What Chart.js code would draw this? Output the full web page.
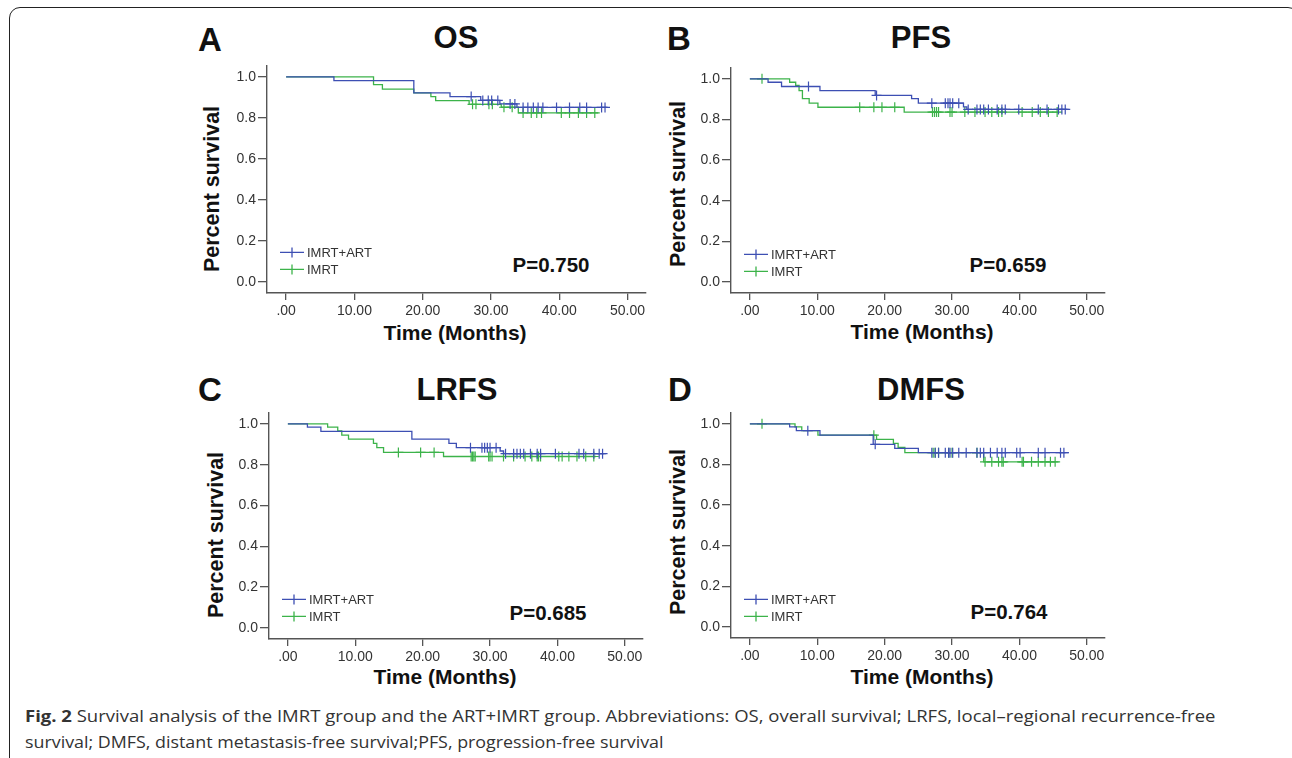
<!DOCTYPE html>
<html>
<head>
<meta charset="utf-8">
<script src="https://cdn.jsdelivr.net/npm/chart.js@4.4.1/dist/chart.umd.min.js"></script>
<style>
  body { margin: 0; background: #fff; width: 1292px; height: 758px; overflow: hidden; position: relative;
         font-family: "Liberation Sans", Arial, sans-serif; }
  .frame { position: absolute; left: 9px; top: 7px; width: 1290px; height: 800px;
           border: 1.6px solid #222; border-radius: 11px; box-sizing: border-box; }
  canvas { position: absolute; }
  .t { position: absolute; transform: translate(-50%, -50%); white-space: nowrap; color: #111; font-weight: bold; }
  .letter { font-size: 33px; }
  .title { font-size: 31px; }
  .xt { font-size: 21px; }
  .yt { font-size: 21.5px; transform: translate(-50%, -50%) rotate(-90deg); }
  .pv { font-size: 20.5px; }
  .cap { position: absolute; left: 25px; white-space: nowrap; font-family: "Open Sans", sans-serif;
         font-size: 16px; color: #333; transform-origin: 0 50%; line-height: 20px; }
</style>
</head>
<body>
<div class="frame"></div>

<div class="t letter" style="left:210px;top:40px">A</div>
<div class="t letter" style="left:679px;top:39px">B</div>
<div class="t letter" style="left:210px;top:390px">C</div>
<div class="t letter" style="left:680px;top:390px">D</div>

<div class="t title" style="left:456px;top:38px">OS</div>
<div class="t title" style="left:921px;top:38px">PFS</div>
<div class="t title" style="left:457px;top:390px">LRFS</div>
<div class="t title" style="left:921px;top:390px">DMFS</div>

<div class="t yt" style="left:212px;top:189px">Percent survival</div>
<div class="t yt" style="left:678px;top:184px">Percent survival</div>
<div class="t yt" style="left:216px;top:535px">Percent survival</div>
<div class="t yt" style="left:678px;top:532px">Percent survival</div>

<div class="t xt" style="left:455px;top:333px">Time (Months)</div>
<div class="t xt" style="left:922px;top:332px">Time (Months)</div>
<div class="t xt" style="left:445px;top:677px">Time (Months)</div>
<div class="t xt" style="left:922px;top:677px">Time (Months)</div>

<div class="t pv" style="left:551px;top:265px">P=0.750</div>
<div class="t pv" style="left:1008px;top:265px">P=0.659</div>
<div class="t pv" style="left:548px;top:613px">P=0.685</div>
<div class="t pv" style="left:1009px;top:612px">P=0.764</div>

<div class="cap" id="cap1" style="top:706px"><b>Fig. 2</b> Survival analysis of the IMRT group and the ART+IMRT group. Abbreviations: OS, overall survival; LRFS, local–regional recurrence-free</div>
<div class="cap" id="cap2" style="top:732px">survival; DMFS, distant metastasis-free survival;PFS, progression-free survival</div>

<script>
const groups = ['IMRT+ART', 'IMRT'];
const colors = ['#3d4fb3', '#3cb34a'];
const xTicks = [0, 10, 20, 30, 40, 50];
const xTickLabels = ['.00', '10.00', '20.00', '30.00', '40.00', '50.00'];
const yTicks = [0, 0.2, 0.4, 0.6, 0.8, 1.0];
const yTickLabels = ['0.0', '0.2', '0.4', '0.6', '0.8', '1.0'];

// OS
const osArtTimes = [7.0, 18.7, 24.0, 28.5, 31.3, 33.8];
const osArtSurv = [0.982, 0.922, 0.904, 0.885, 0.868, 0.851];
const osArtEnd = 47.1;
const osArtCens = [27.1, 28.8, 29.6, 30.1, 31.0, 32.8, 33.5, 34.7, 35.4, 36.2, 36.9, 37.6, 39.6, 41.5, 43.0, 44.0, 46.2, 46.7];
const osImrtTimes = [12.8, 14.1, 18.7, 21.2, 21.9, 26.8, 31.5, 34.0];
const osImrtSurv = [0.962, 0.940, 0.922, 0.904, 0.884, 0.866, 0.852, 0.824];
const osImrtEnd = 45.7;
const osImrtCens = [27.3, 27.8, 29.7, 30.2, 31.9, 33.1, 34.7, 35.9, 36.7, 37.4, 40.3, 41.5, 42.8, 44.0, 45.2];

// PFS
const pfsArtTimes = [2.7, 4.7, 10.4, 18.6, 24.0, 25.0, 31.7, 32.2];
const pfsArtSurv = [0.983, 0.962, 0.942, 0.918, 0.902, 0.880, 0.862, 0.849];
const pfsArtEnd = 47.3;
const pfsArtCens = [8.7, 18.8, 27.0, 29.0, 29.4, 29.7, 30.1, 31.0, 32.4, 33.7, 34.2, 34.7, 35.4, 36.7, 37.4, 37.9, 39.9, 42.8, 44.1, 45.8, 46.3, 46.8];
const pfsImrtTimes = [5.9, 6.8, 7.3, 7.8, 8.8, 10.1, 22.9];
const pfsImrtSurv = [0.983, 0.967, 0.942, 0.902, 0.880, 0.860, 0.836];
const pfsImrtEnd = 45.8;
const pfsImrtCens = [1.8, 16.3, 18.4, 19.6, 21.5, 27.1, 27.4, 27.7, 28.0, 29.7, 30.0, 31.9, 33.4, 34.9, 35.9, 36.9, 37.4, 40.4, 41.9, 43.1, 44.3, 45.6];

// LRFS
const lrfsArtTimes = [2.9, 4.9, 18.4, 23.9, 25.0, 31.5, 32.0];
const lrfsArtSurv = [0.984, 0.963, 0.925, 0.904, 0.883, 0.867, 0.854];
const lrfsArtEnd = 47.2;
const lrfsArtCens = [27.1, 28.8, 29.2, 29.6, 30.0, 30.9, 32.3, 33.5, 34.0, 34.5, 35.0, 36.0, 37.0, 37.5, 39.7, 43.2, 43.9, 45.4, 46.2, 46.7];
const lrfsImrtTimes = [5.9, 7.4, 8.0, 9.0, 12.7, 13.2, 14.2, 23.1];
const lrfsImrtSurv = [0.984, 0.965, 0.945, 0.925, 0.904, 0.883, 0.860, 0.840];
const lrfsImrtEnd = 45.7;
const lrfsImrtCens = [16.4, 19.7, 21.7, 27.2, 27.4, 27.6, 27.8, 29.8, 30.0, 30.3, 32.0, 33.5, 35.2, 36.2, 37.0, 37.2, 37.5, 40.2, 40.7, 41.7, 42.9, 44.2, 45.4];

// DMFS
const dmfsArtTimes = [5.9, 6.9, 10.4, 18.3, 21.5, 25.0];
const dmfsArtSurv = [0.985, 0.966, 0.944, 0.899, 0.879, 0.858];
const dmfsArtEnd = 47.3;
const dmfsArtCens = [8.6, 18.6, 27.0, 27.5, 28.0, 29.0, 29.5, 29.7, 30.1, 31.0, 32.1, 33.7, 34.2, 34.7, 35.7, 36.7, 37.4, 37.9, 39.6, 40.1, 42.8, 43.8, 46.1, 46.6];
const dmfsImrtTimes = [6.7, 7.7, 10.1, 18.8, 21.3, 22.0, 23.0, 34.7];
const dmfsImrtSurv = [0.985, 0.966, 0.944, 0.923, 0.904, 0.884, 0.858, 0.813];
const dmfsImrtEnd = 45.8;
const dmfsImrtCens = [1.8, 18.4, 27.2, 27.5, 28.0, 29.5, 30.0, 33.7, 34.9, 35.9, 36.9, 37.4, 37.6, 40.4, 40.6, 41.8, 42.8, 43.8, 44.6, 45.3];

// plot frame of each panel in page pixels: left, top, right, bottom
const panels = [
  { area: [267, 65, 646, 293],
    sets: [[osArtTimes, osArtSurv, osArtEnd, osArtCens], [osImrtTimes, osImrtSurv, osImrtEnd, osImrtCens]] },
  { area: [731, 67, 1105, 293],
    sets: [[pfsArtTimes, pfsArtSurv, pfsArtEnd, pfsArtCens], [pfsImrtTimes, pfsImrtSurv, pfsImrtEnd, pfsImrtCens]] },
  { area: [269, 412, 643, 639],
    sets: [[lrfsArtTimes, lrfsArtSurv, lrfsArtEnd, lrfsArtCens], [lrfsImrtTimes, lrfsImrtSurv, lrfsImrtEnd, lrfsImrtCens]] },
  { area: [731, 412, 1105, 638],
    sets: [[dmfsArtTimes, dmfsArtSurv, dmfsArtEnd, dmfsArtCens], [dmfsImrtTimes, dmfsImrtSurv, dmfsImrtEnd, dmfsImrtCens]] }
];

// canvas margin round the plot frame; the axes take YW / XH of it
const PADL = 60, PADR = 10, PADT = 10, PADB = 32;
const YW = 44, XH = 30;

function survAt(times, surv, t) {
  let s = 1;
  for (let i = 0; i < times.length; i++) {
    if (times[i] <= t) s = surv[i];
  }
  return s;
}

const legendPlugin = {
  id: 'kmLegend',
  afterDraw(chart) {
    const ctx = chart.ctx;
    const a = chart.chartArea;
    ctx.save();
    groups.forEach((g, i) => {
      const y = a.top + 187 + i * 17;
      ctx.strokeStyle = colors[i];
      ctx.lineWidth = 1.3;
      ctx.beginPath();
      ctx.moveTo(a.left + 13, y);
      ctx.lineTo(a.left + 37, y);
      ctx.moveTo(a.left + 25, y - 5);
      ctx.lineTo(a.left + 25, y + 5);
      ctx.stroke();
      ctx.fillStyle = '#333';
      ctx.font = '13px "Liberation Sans", Arial, sans-serif';
      ctx.textBaseline = 'middle';
      ctx.fillText(g, a.left + 40, y + 1);
    });
    ctx.restore();
  }
};

const tickFont = { family: '"Liberation Sans", Arial, sans-serif', size: 14 };

panels.forEach(p => {
  const [l, t, r, b] = p.area;
  const cv = document.createElement('canvas');
  cv.width = r - l + PADL + PADR;
  cv.height = b - t + PADT + PADB;
  cv.style.left = (l - PADL) + 'px';
  cv.style.top = (t - PADT) + 'px';
  document.body.appendChild(cv);

  const datasets = [];
  p.sets.forEach((s, i) => {
    const [times, surv, end, cens] = s;
    const pts = [{ x: 0, y: 1 }];
    times.forEach((tt, k) => pts.push({ x: tt, y: surv[k] }));
    pts.push({ x: end, y: surv[surv.length - 1] });
    datasets.push({
      label: groups[i],
      data: pts,
      showLine: true,
      stepped: true,
      borderColor: colors[i],
      borderWidth: 1.3,
      pointRadius: 0
    });
    datasets.push({
      label: groups[i] + ' censored',
      data: cens.map(c => ({ x: c, y: survAt(times, surv, c) })),
      showLine: false,
      pointStyle: 'cross',
      pointRadius: 5,
      borderColor: colors[i],
      backgroundColor: colors[i],
      pointBorderWidth: 1.2
    });
  });

  new Chart(cv, {
    type: 'scatter',
    data: { datasets: datasets },
    plugins: [legendPlugin],
    options: {
      responsive: false,
      animation: false,
      events: [],
      layout: { padding: { left: PADL - YW, right: PADR, top: PADT, bottom: PADB - XH } },
      plugins: { legend: { display: false }, tooltip: { enabled: false } },
      scales: {
        x: {
          type: 'linear', min: -2.8, max: 52.7,
          afterBuildTicks: s => { s.ticks = xTicks.map(v => ({ value: v })); },
          afterFit: s => { s.height = XH; },
          ticks: { callback: (v, i) => xTickLabels[i], font: tickFont, color: '#333', padding: 3, maxRotation: 0, autoSkip: false },
          grid: { drawOnChartArea: false, tickLength: 7, color: '#555', lineWidth: 1.3 },
          border: { color: '#555', width: 1.4 }
        },
        y: {
          type: 'linear', min: -0.054, max: 1.056,
          afterBuildTicks: s => { s.ticks = yTicks.map(v => ({ value: v })); },
          afterFit: s => { s.width = YW; },
          ticks: { callback: (v, i) => yTickLabels[i], font: tickFont, color: '#333', padding: 2, autoSkip: false },
          grid: { drawOnChartArea: false, tickLength: 9, color: '#555', lineWidth: 1.3 },
          border: { color: '#555', width: 1.4 }
        }
      }
    }
  });
});

// fit caption lines to the measured widths of the figure
[['cap1', 1191], ['cap2', 639]].forEach(([id, w]) => {
  const el = document.getElementById(id);
  el.style.transform = 'scaleX(' + (w / el.offsetWidth) + ')';
});
</script>
</body>
</html>
